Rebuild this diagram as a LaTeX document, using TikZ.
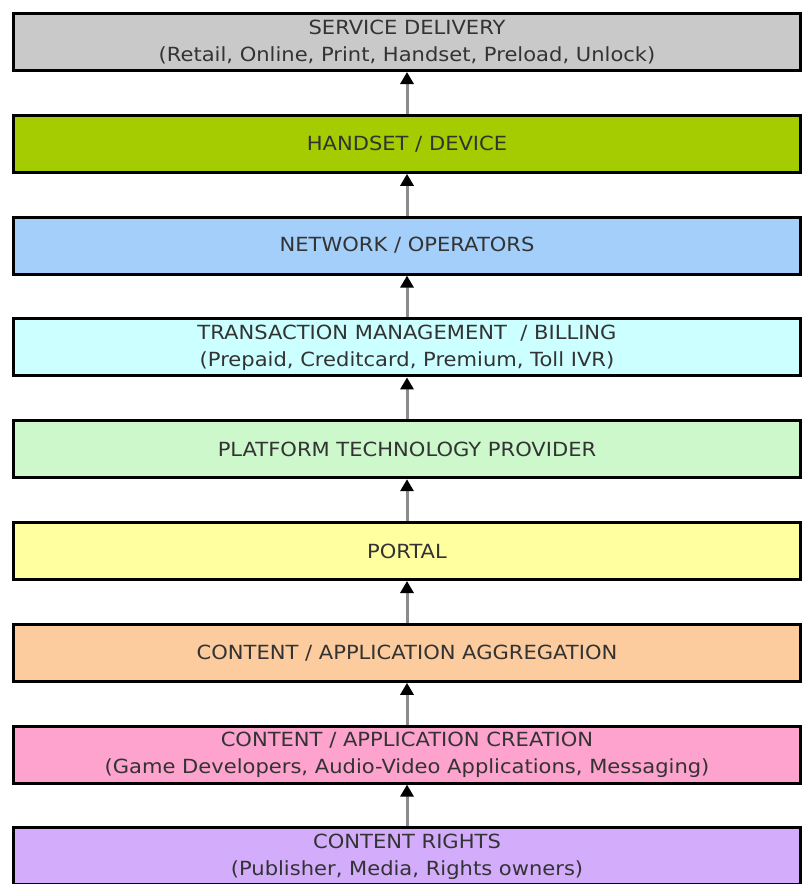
\documentclass[tikz,border=0pt]{standalone}
\usepackage{fontspec}
\setmainfont[FakeStretch=1.08]{DejaVu Sans}
\usetikzlibrary{arrows.meta}
\definecolor{layergray}{HTML}{C9C9C9}
\definecolor{layergreen}{HTML}{A5CC00}
\definecolor{layerblue}{HTML}{A3CFFA}
\definecolor{layercyan}{HTML}{CCFFFF}
\definecolor{layermint}{HTML}{CCF8CC}
\definecolor{layeryellow}{HTML}{FFFF9F}
\definecolor{layerpeach}{HTML}{FCCC9E}
\definecolor{layerpink}{HTML}{FDA3CE}
\definecolor{layerlilac}{HTML}{D3ADFC}
\definecolor{labeltext}{HTML}{333333}
\definecolor{shaftgray}{HTML}{8C8C8C}
\tikzset{
  layer/.style={draw=black, line width=3pt, minimum width=787pt, minimum height=57pt,
    inner sep=0pt, align=center, text=labeltext,
    font=\fontsize{19.5}{27}\selectfont},
  uparrow/.style={draw=shaftgray, line width=3pt, -{Triangle[black,length=12pt,width=13pt]}}
}
\begin{document}
\begin{tikzpicture}[x=1pt, y=-1pt]
            \useasboundingbox (0,0) rectangle (803,884);
            % the value chain, bottom layer last
            \foreach \col/\txt [count=\i] in {
                layergray/{SERVICE DELIVERY\\(Retail, Online, Print, Handset, Preload, Unlock)},
                layergreen/{HANDSET / DEVICE},
                layerblue/{NETWORK / OPERATORS},
                layercyan/{TRANSACTION MANAGEMENT \ / BILLING\\(Prepaid, Creditcard, Premium, Toll IVR)},
                layermint/{PLATFORM TECHNOLOGY PROVIDER},
                layeryellow/{PORTAL},
                layerpeach/{CONTENT / APPLICATION AGGREGATION},
                layerpink/{CONTENT / APPLICATION CREATION\\(Game Developers, Audio-Video Applications, Messaging)},
                layerlilac/{CONTENT RIGHTS\\(Publisher, Media, Rights owners)}}{
                \node[layer, fill=\col] (layer\i) at (407,42+101.8*\i-101.8) {\txt};
            }
            \foreach \i [evaluate=\i as \j using int(\i+1)] in {1,...,8}{
                \draw[uparrow] (layer\j.north) -- (layer\i.south);
            }
        \end{tikzpicture}
\end{document}
